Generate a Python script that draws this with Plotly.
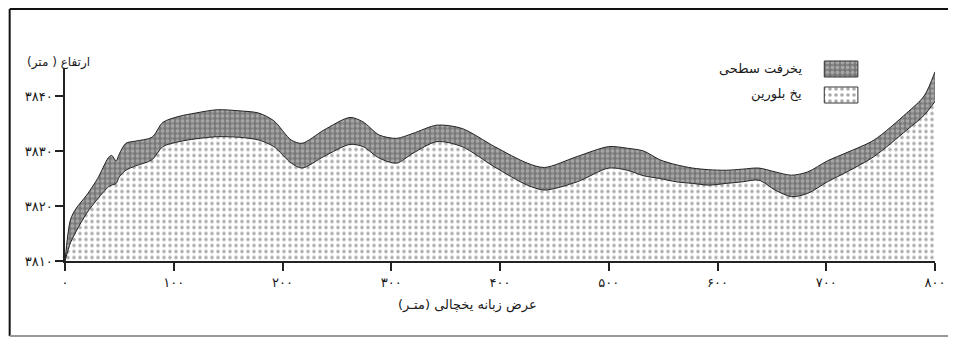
import plotly.graph_objects as go

# ---- data ----
distance_m = [0, 5, 10, 20, 30, 40, 43, 47, 50, 56, 65, 80, 90, 105, 120, 140, 160, 178, 192,
              208, 218, 238, 262, 274, 289, 305, 320, 342, 365, 395, 425, 441, 471, 500, 517,
              532, 547, 562, 577, 592, 608, 623, 638, 653, 668, 683, 701, 720, 744, 774, 790, 800]
debris_top = [3810, 3817.5, 3819.5, 3822, 3825, 3828.8, 3829.2, 3828.2, 3829.5, 3831.4, 3831.8,
              3832.5, 3835.2, 3836.3, 3836.9, 3837.5, 3837.3, 3836.9, 3835.5, 3832, 3831.4,
              3833.8, 3836.1, 3835.3, 3832.9, 3832.3, 3833.2, 3834.7, 3834.1, 3830.8, 3827.8,
              3827, 3829, 3830.8, 3830.5, 3830, 3828.4, 3827.5, 3826.9, 3826.6, 3826.5, 3826.7,
              3826.9, 3826.2, 3825.6, 3826.2, 3828.2, 3829.8, 3832, 3836.9, 3840, 3844.4]
ice_top = [3810, 3813.3, 3815.3, 3818.7, 3821.3, 3823.5, 3823.8, 3824.1, 3825.3, 3826.5, 3827.3,
           3828.4, 3830.8, 3831.7, 3832.2, 3832.6, 3832.5, 3832, 3830.8, 3827.8, 3826.9, 3829,
           3831.2, 3830.8, 3828.7, 3827.8, 3829.6, 3831.7, 3830.8, 3827.1, 3823.8, 3822.9,
           3824.4, 3826.9, 3826.5, 3825.5, 3825, 3824.4, 3824.1, 3823.8, 3824.1, 3824.4, 3824.7,
           3822.9, 3821.7, 3822.3, 3824.4, 3826.3, 3829, 3833.8, 3836.5, 3839]

x_tick_vals = [0, 100, 200, 300, 400, 500, 600, 700, 800]
x_tick_text = ['۰', '۱۰۰', '۲۰۰', '۳۰۰', '۴۰۰', '۵۰۰', '۶۰۰', '۷۰۰', '۸۰۰']
y_tick_vals = [3810, 3820, 3830, 3840]
y_tick_text = ['۳۸۱۰', '۳۸۲۰', '۳۸۳۰', '۳۸۴۰']

series_names = ['یخرفت سطحی', 'یخ بلورین']
x_title = 'عرض زبانه یخچالی (متـر)'
y_title = 'ارتفاع ( متر)'

RLM = '\u200f'
FONT = 'DejaVu Sans'
dark_pat = dict(shape='.', bgcolor='#777777', fgcolor='#d4d4d4', size=5, solidity=0.45)
light_pat = dict(shape='.', bgcolor='#ffffff', fgcolor='#555555', size=6, solidity=0.28)

fig = go.Figure()
fig.add_trace(go.Scatter(x=distance_m, y=ice_top, mode='lines', name=series_names[1],
                         line=dict(color='#222', width=1, shape='spline', smoothing=0.8),
                         fill='tozeroy', fillpattern=light_pat, fillcolor='#ffffff',
                         showlegend=False))
fig.add_trace(go.Scatter(x=distance_m, y=debris_top, mode='lines', name=series_names[0],
                         line=dict(color='#222', width=1, shape='spline', smoothing=0.8),
                         fill='tonexty', fillpattern=dark_pat, fillcolor='#777777',
                         showlegend=False))

# legend keys drawn on a separate full-size subplot (units = reference pixels)
legend_x = [833, 867, 867, 833, 833]
fig.add_trace(go.Scatter(x=legend_x, y=[61, 61, 77, 77, 61], mode='lines', fill='toself',
                         fillpattern=dark_pat, fillcolor='#777777',
                         line=dict(color='#333', width=1), xaxis='x2', yaxis='y2',
                         showlegend=False, hoverinfo='skip'))
fig.add_trace(go.Scatter(x=legend_x, y=[87, 87, 103, 103, 87], mode='lines', fill='toself',
                         fillpattern=light_pat, fillcolor='#ffffff',
                         line=dict(color='#333', width=1), xaxis='x2', yaxis='y2',
                         showlegend=False, hoverinfo='skip'))

fig.update_layout(
    width=948, height=330,
    margin=dict(l=57, r=11, t=12, b=77),
    paper_bgcolor='white', plot_bgcolor='rgba(0,0,0,0)',
    font=dict(family=FONT, color='#1a1a1a'),
    showlegend=False,
    xaxis=dict(range=[0, 800], tickvals=x_tick_vals, ticktext=x_tick_text,
               showline=True, linecolor='#222', linewidth=1.5, ticks='outside',
               ticklen=8, tickcolor='#222', tickwidth=1.5, showgrid=False, zeroline=False,
               tickfont=dict(size=13, family=FONT, color='#1a1a1a'), ticklabelstandoff=1),
    yaxis=dict(range=[3810, 3845], domain=[0, 0.7988], tickvals=y_tick_vals,
               ticktext=y_tick_text, showline=True, linecolor='#222', linewidth=1.5,
               ticks='outside', ticklen=8, tickcolor='#222', tickwidth=1.5,
               showgrid=False, zeroline=False,
               tickfont=dict(size=13, family=FONT, color='#1a1a1a')),
    xaxis2=dict(range=[65, 945], domain=[0, 1], anchor='y2',
                visible=False, fixedrange=True),
    yaxis2=dict(range=[261, 20], domain=[0, 1], anchor='x2',
                visible=False, fixedrange=True),
    annotations=[
        dict(text=x_title + RLM, x=0.4625, y=-0.1826, xref='paper', yref='paper',
             xanchor='center', yanchor='middle', showarrow=False,
             font=dict(size=13, family=FONT)),
        dict(text=y_title + RLM, x=-0.008, y=0.8257, xref='paper', yref='paper',
             xanchor='center', yanchor='middle', showarrow=False,
             font=dict(size=12, family=FONT)),
        dict(text=series_names[0], x=812, y=69, xref='x2', yref='y2', xanchor='right',
             yanchor='middle', showarrow=False, font=dict(size=13, family=FONT)),
        dict(text=series_names[1], x=812, y=94, xref='x2', yref='y2', xanchor='right',
             yanchor='middle', showarrow=False, font=dict(size=13, family=FONT)),
    ],
    shapes=[
        dict(type='line', xref='paper', yref='paper', x0=-0.0636, x1=1.03, y0=1.0456, y1=1.0456,
             line=dict(color='#111', width=2)),
        dict(type='line', xref='paper', yref='paper', x0=-0.0636, x1=-0.0636, y0=1.0456, y1=-0.311,
             line=dict(color='#111', width=2)),
        dict(type='line', xref='paper', yref='paper', x0=-0.0636, x1=1.03, y0=-0.311, y1=-0.311,
             line=dict(color='#999', width=2)),
    ],
)

fig.write_html('out.html')
